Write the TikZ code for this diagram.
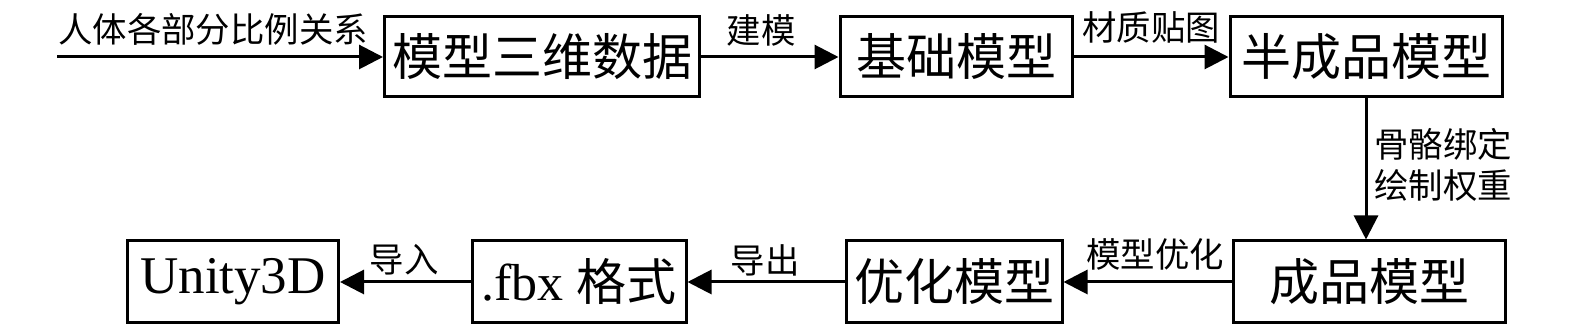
\documentclass[tikz,border=0pt]{standalone}
\usepackage{fontspec}
\setmainfont{Liberation Serif}
\newfontfamily\cjk{Noto Sans CJK SC}
\usetikzlibrary{arrows.meta}
\begin{document}
\begin{tikzpicture}[x=0.5pt,y=-0.5pt,
  boxnode/.style={draw,line width=1.5pt,minimum height=40pt,inner sep=0pt,font=\fontsize{25}{25}\selectfont\cjk},
  lbl/.style={font=\fontsize{17.2}{19}\selectfont\cjk,inner sep=0pt},
  conn/.style={line width=1.5pt,-{Triangle[length=12pt,width=12pt]}}]
\useasboundingbox (0,0) rectangle (1575,335);
\node[boxnode,minimum width=157.5pt] (b1) at (542,57) {模型三维数据};
\node[boxnode,minimum width=116pt] (b2) at (956,57) {基础模型};
\node[boxnode,minimum width=136pt] (b3) at (1366,57) {半成品模型};
\node[boxnode,minimum width=136pt,minimum height=41pt] (b4) at (1369,282) {成品模型};
\node[boxnode,minimum width=108pt,minimum height=41pt] (b5) at (954,282) {优化模型};
\node[boxnode,minimum width=107pt,minimum height=41pt] (b6) at (579,282) {\fontsize{26}{26}\selectfont\rmfamily .fbx \fontsize{25}{25}\selectfont\cjk 格式};
\node[boxnode,minimum width=105.5pt,minimum height=41pt] (b7) at (233,282) {\fontsize{26.5}{26.5}\selectfont\rmfamily Unity3D};
\coordinate (in) at (57,57);
\draw[conn] (in) -- (b1.west);
\draw[conn] (b1) -- (b2);
\draw[conn] (b2) -- (b3);
\draw[conn] (b3.south) -- (b3.south |- b4.north);
\draw[conn] (b4) -- (b5);
\draw[conn] (b5) -- (b6);
\draw[conn] (b6) -- (b7);
\node[lbl] (l1) at (213,29) {人体各部分比例关系};
\node[lbl] (l2) at (761,30) {建模};
\node[lbl] (l3) at (1151,27) {材质贴图};
\node[lbl,align=left,font=\fontsize{17.2}{20.5}\selectfont\cjk] (l4) at (1443,165) {骨骼绑定\\[0pt]绘制权重};
\node[lbl] (l5) at (1155,254) {模型优化};
\node[lbl] (l6) at (765,260) {导出};
\node[lbl] (l7) at (404,260) {导入};
\end{tikzpicture}
\end{document}
